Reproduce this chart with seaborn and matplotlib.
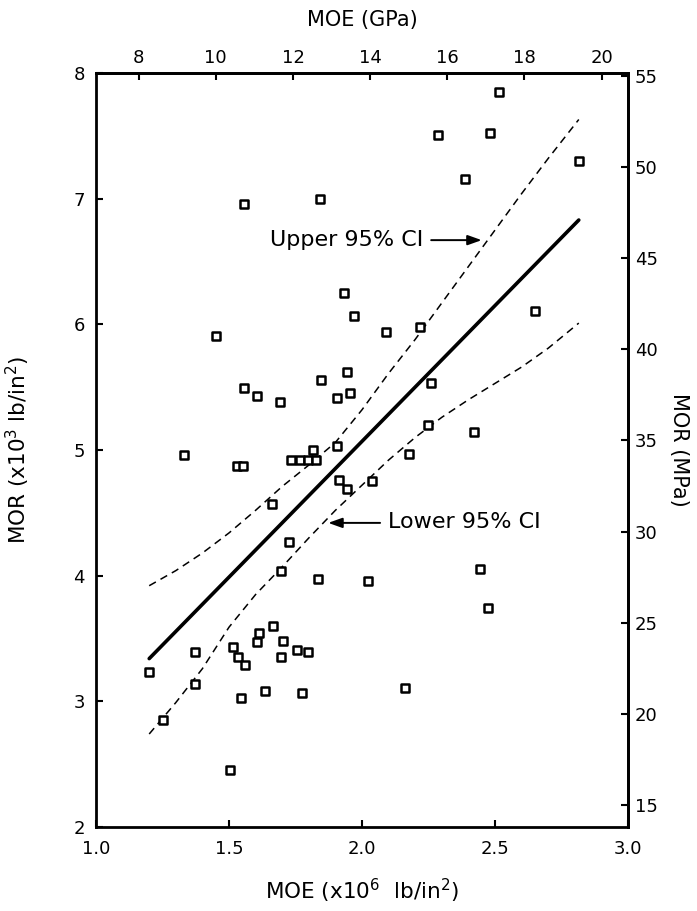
import numpy as np
import pandas as pd
import seaborn as sns
import matplotlib.pyplot as plt

# MOE (x10^6 lb/in^2) vs MOR (x10^3 lb/in^2)
moe = [1.556, 1.842, 1.932, 1.971, 1.450, 2.516, 2.284, 2.480, 2.815, 2.388,
       2.649, 2.089, 2.218, 1.558, 1.604, 1.693, 1.845, 1.944, 1.905, 1.954,
       1.330, 1.529, 1.554, 1.734, 1.767, 1.798, 1.828, 1.815, 1.905, 1.915,
       1.945, 1.663, 1.727, 1.694, 1.835, 2.259, 2.249, 2.421, 2.178, 2.039,
       2.444, 2.021, 1.200, 1.371, 1.371, 1.250, 1.514, 1.534, 1.561, 1.544,
       1.504, 1.614, 1.604, 1.664, 1.702, 1.694, 1.757, 1.797, 1.637, 1.776,
       2.472, 2.163]
mor = [6.96, 7.00, 6.25, 6.07, 5.91, 7.85, 7.51, 7.52, 7.30, 7.16,
       6.11, 5.94, 5.98, 5.49, 5.43, 5.38, 5.56, 5.62, 5.41, 5.45,
       4.96, 4.87, 4.87, 4.92, 4.92, 4.92, 4.92, 5.00, 5.03, 4.76,
       4.69, 4.57, 4.27, 4.04, 3.97, 5.53, 5.20, 5.14, 4.97, 4.75,
       4.05, 3.96, 3.23, 3.39, 3.14, 2.85, 3.43, 3.35, 3.29, 3.03,
       2.45, 3.54, 3.47, 3.60, 3.48, 3.35, 3.41, 3.39, 3.08, 3.07,
       3.74, 3.11]

# regression line and 95% confidence limits
fit_moe = [1.20, 2.815]
fit_mor = [3.34, 6.83]
ci_moe = [1.20, 1.30, 1.40, 1.50, 1.60, 1.70, 1.80, 1.90, 2.00, 2.10,
          2.20, 2.30, 2.40, 2.50, 2.60, 2.70, 2.815]
ci_upper = [3.92, 4.04, 4.18, 4.34, 4.52, 4.71, 4.88, 5.06, 5.32, 5.61,
            5.88, 6.17, 6.46, 6.75, 7.04, 7.32, 7.63]
ci_lower = [2.74, 2.99, 3.26, 3.59, 3.85, 4.07, 4.30, 4.52, 4.72, 4.92,
            5.10, 5.26, 5.40, 5.53, 5.66, 5.81, 6.01]

x_ticks = [1.0, 1.5, 2.0, 2.5, 3.0]
y_ticks = [2, 3, 4, 5, 6, 7, 8]
gpa_ticks = [8, 10, 12, 14, 16, 18, 20]
mpa_ticks = [15, 20, 25, 30, 35, 40, 45, 50, 55]

TO_SI = 6.895

sns.set_theme(style='ticks')
plt.rcParams['font.family'] = ['DejaVu Sans']
plt.rcParams.update({'text.color': 'black', 'axes.labelcolor': 'black',
                     'xtick.color': 'black', 'ytick.color': 'black'})

fig = plt.figure(figsize=(6.97, 9.11), dpi=100)
ax = fig.add_axes([96 / 697, 1 - 827 / 911, 532 / 697, 754 / 911])

sns.lineplot(x=fit_moe, y=fit_mor, color='black', linewidth=2.6, ax=ax)
sns.lineplot(x=ci_moe, y=ci_upper, color='black', linewidth=1.1,
             linestyle=(0, (5, 3.5)), ax=ax)
sns.lineplot(x=ci_moe, y=ci_lower, color='black', linewidth=1.1,
             linestyle=(0, (5, 3.5)), ax=ax)
sns.scatterplot(x=moe, y=mor, marker='s', s=26, facecolor='white',
                edgecolor='black', linewidth=1.8, zorder=5, ax=ax)

ax.set_xlim(1.0, 3.0)
ax.set_ylim(2, 8)
ax.set_xticks(x_ticks)
ax.set_xticklabels([f'{t:.1f}' for t in x_ticks])
ax.set_yticks(y_ticks)
ax.tick_params(direction='in', length=5, width=1.5, labelsize=13)
ax.tick_params(axis='x', pad=9)
ax.tick_params(axis='y', pad=8)
ax.set_xlabel('MOE (x10$^6$  lb/in$^2$)', fontsize=15.5, labelpad=14)
ax.set_ylabel('MOR (x10$^3$ lb/in$^2$)', fontsize=15.5, labelpad=30)

top = ax.secondary_xaxis('top', functions=(lambda v: v * TO_SI, lambda v: v / TO_SI))
top.set_xticks(gpa_ticks)
top.tick_params(direction='in', length=5, width=1.5, labelsize=13, pad=4)
top.set_xlabel('MOE (GPa)', fontsize=15, labelpad=17)

right = ax.secondary_yaxis('right', functions=(lambda v: v * TO_SI, lambda v: v / TO_SI))
right.set_yticks(mpa_ticks)
right.tick_params(direction='in', length=5, width=1.5, labelsize=13, pad=5)
right.set_ylabel('MOR (MPa)', fontsize=15, rotation=270, labelpad=22)

for a in (ax, top, right):
    for sp in a.spines.values():
        sp.set_linewidth(2)
        sp.set_color('black')

# CI labels with arrows
ax.text(2.23, 6.67, 'Upper 95% CI', ha='right', va='center', fontsize=16)
ax.annotate('', xy=(2.45, 6.67), xytext=(2.26, 6.67),
            arrowprops=dict(arrowstyle='-|>,head_length=0.7,head_width=0.25',
                            color='black', lw=1.4, shrinkA=0, shrinkB=0))
ax.text(2.098, 4.43, 'Lower 95% CI', ha='left', va='center', fontsize=16)
ax.annotate('', xy=(1.873, 4.42), xytext=(2.068, 4.42),
            arrowprops=dict(arrowstyle='-|>,head_length=0.7,head_width=0.25',
                            color='black', lw=1.4, shrinkA=0, shrinkB=0))

fig.savefig('out.png', dpi=100)
